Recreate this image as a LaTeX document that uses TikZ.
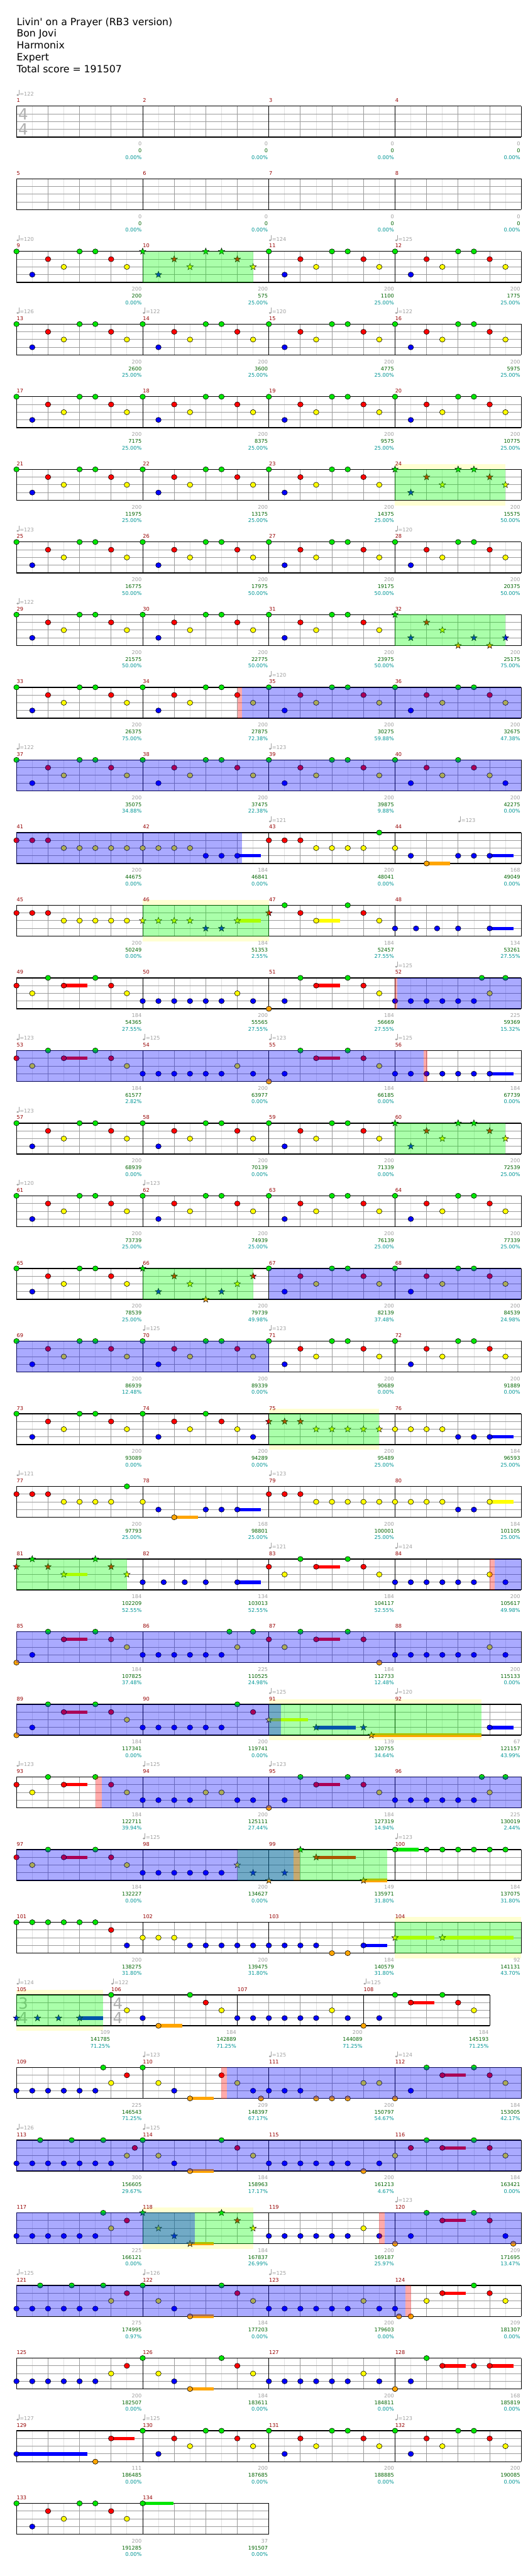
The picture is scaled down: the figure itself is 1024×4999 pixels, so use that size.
\documentclass[tikz,border=0pt]{standalone}
\usepackage{fontspec}
\setmainfont{DejaVu Sans}
\usetikzlibrary{shapes.geometric}
\definecolor{cG}{RGB}{0,230,0}
\definecolor{cR}{RGB}{255,0,0}
\definecolor{cY}{RGB}{255,255,0}
\definecolor{cB}{RGB}{0,0,255}
\definecolor{cO}{RGB}{255,165,0}
\definecolor{numred}{RGB}{150,0,0}
\definecolor{sgray}{RGB}{160,160,160}
\definecolor{sgreen}{RGB}{0,100,0}
\definecolor{scyan}{RGB}{0,150,150}
\definecolor{spgreen}{RGB}{0,255,0}
\definecolor{solo}{RGB}{255,255,210}
\definecolor{gridq}{RGB}{155,155,155}
\definecolor{gride}{RGB}{225,225,225}
\definecolor{tsgray}{RGB}{175,175,175}
\pgfdeclarelayer{bg}\pgfdeclarelayer{sp}\pgfdeclarelayer{od}
\pgfsetlayers{bg,main,sp,od}
\def\fsm{\fontsize{5pt}{6pt}\selectfont}
\def\fti{\fontsize{9.6pt}{11.5pt}\selectfont}
\def\fts{\fontsize{15pt}{15pt}\selectfont}
\tikzset{
 mnum/.style={anchor=base west,inner sep=0pt,text=numred,font=\fsm},
 sc/.style={anchor=base east,inner sep=0pt,font=\fsm},
 tsf/.style={inner sep=0pt,text=tsgray,font=\fts},
 notec/.style={draw=black,line width=0.35pt},
 starc/.style={star,star points=5,star point ratio=2.4,minimum size=6.6pt,inner sep=0pt,draw=black,line width=0.3pt},
 titl/.style={anchor=base west,inner sep=0pt,font=\fti,text=black},
}
% notes
\def\Nt#1#2#3{\filldraw[notec,fill=#3] (#1,#2) ellipse [x radius=2.65pt,y radius=2.5pt];}
\def\Ng#1{\Nt{#1}{0}{cG}}\def\Nr#1{\Nt{#1}{1}{cR}}\def\Ny#1{\Nt{#1}{2}{cY}}
\def\Nb#1{\Nt{#1}{3}{cB}}\def\No#1{\Nt{#1}{4}{cO}}
% stars
\def\St#1#2#3{\node[starc,fill=#3] at (#1,#2) {};}
\def\Sg#1{\St{#1}{0}{cG}}\def\Sr#1{\St{#1}{1}{cR}}\def\Sy#1{\St{#1}{2}{cY}}
\def\Sb#1{\St{#1}{3}{cB}}\def\So#1{\St{#1}{4}{cO}}
% sustains
\def\Lc#1#2#3#4{\fill[#4] (#1,{#3-0.22}) rectangle (#2,{#3+0.22});}
\def\Lg#1#2{\Lc{#1}{#2}{0}{cG}}\def\Lr#1#2{\Lc{#1}{#2}{1}{cR}}\def\Ly#1#2{\Lc{#1}{#2}{2}{cY}}
\def\Lb#1#2{\Lc{#1}{#2}{3}{cB}}\def\Lo#1#2{\Lc{#1}{#2}{4}{cO}}
% overlays
\def\Sps#1#2{\begin{pgfonlayer}{sp}\fill[spgreen,opacity=0.333] (#1,0) rectangle (#2,4);\end{pgfonlayer}}
\def\Ods#1#2{\begin{pgfonlayer}{od}\fill[cB,opacity=0.333] (#1,0) rectangle (#2,4);\end{pgfonlayer}}
\def\Acs#1#2{\begin{pgfonlayer}{od}\fill[cR,opacity=0.333] (#1,0) rectangle (#2,4);\end{pgfonlayer}}
\def\Solo#1#2{\begin{pgfonlayer}{bg}\fill[solo] (#1,-0.667) rectangle (#2,4.667);\end{pgfonlayer}}
% tempo and time signature
\def\Tm#1#2{\begin{scope}[shift={(#1,0)}]
 \fill[sgray] (1.2pt,10.8pt) ellipse [x radius=1.2pt,y radius=0.9pt];
 \draw[sgray,line width=0.4pt] (2.3pt,10.8pt)--(2.3pt,15.8pt);
 \node[anchor=base west,inner sep=0pt,text=sgray,font=\fsm] at (2.9pt,10.2pt) {=#2};
 \end{scope}}
\def\Tsig#1#2{\node[tsf] at (6.5pt,-8pt) {#1};\node[tsf] at (6.5pt,-22.5pt) {#2};}
% grid
\def\Gridm#1{%
 \fill[white] (0,0) rectangle (#1,4);
 \pgfmathtruncatemacro\wa{#1-1}\pgfmathtruncatemacro\wb{#1-2}%
 \foreach \i in {1,3,...,\wa} \draw[gride,line width=0.5pt] (\i,0)--(\i,4);
 \foreach \i in {2,4,...,\wb} \draw[gridq,line width=0.5pt] (\i,0)--(\i,4);
 \draw[gridq,line width=0.55pt] (0,1)--(#1,1) (0,2)--(#1,2) (0,3)--(#1,3);
 \draw[black,line width=0.5pt] (0,0)--(0,4) (#1,0)--(#1,4);
 \draw[black,line width=0.8pt] (0,0)--(#1,0) (0,4)--(#1,4);}
% measure: row, column, number, width(eighths), s1, s2, s3, content
\def\Ms#1#2#3#4#5#6#7#8{%
 \begin{scope}[shift={({32+245*#2},{206+140.97*#1})},x=15.3125pt,y=-7.5pt]
 \Gridm{#4}%
 \node[mnum] at (0pt,3.6pt) {#3};%
 #8%
 \begin{scope}[shift={(#4,0)}]
 \node[sc,text=sgray] at (-0.8pt,-38.3pt) {#5};
 \node[sc,text=sgreen] at (-0.8pt,-45pt) {#6};
 \node[sc,text=scyan] at (-0.8pt,-51.4pt) {#7};
 \end{scope}
 \end{scope}}
% patterns
\def\STD{\Ng{0}\Nb{1}\Nr{2}\Ny{3}\Ng{4}\Ng{5}\Nr{6}\Ny{7}}
\def\STDS{\Sg{0}\Sb{1}\Sr{2}\Sy{3}\Sg{4}\Sg{5}\Sr{6}\Sy{7}}
\def\PA{\Lr{3}{4.5}\Nr{0}\Ny{1}\Ng{2}\Nr{3}\Ng{5}\Nr{6}\Ny{7}}
\def\PB{\Lr{3}{4.5}\No{0}\Nb{1}\Ng{2}\Nr{3}\Ng{5}\Nr{6}\Ny{7}}
\def\PC{\Lo{3}{4.5}\Ng{0}\Ny{1}\Nb{2}\No{3}\Ng{5}\Nr{6}\Ny{7}}
\def\BSIX{\Nb{0}\Nb{1}\Nb{2}\Nb{3}\Nb{4}\Nb{5}}
\def\PD{\BSIX\Ny{6}\Nb{7}}
\begin{document}
\begin{tikzpicture}[x=0.5pt,y=-0.5pt]
\begin{pgfonlayer}{bg}\fill[white] (0,0) rectangle (1024,4999);\end{pgfonlayer}
\useasboundingbox (0,0) rectangle (1024,4999);
\node[titl] (t1) at (32,49) {Livin\textquotesingle{} on a Prayer (RB3 version)};
\node[titl] (t2) at (32,72) {Bon Jovi};
\node[titl] (t3) at (32,95) {Harmonix};
\node[titl] (t4) at (32,118) {Expert};
\node[titl] (t5) at (32,141) {Total score = 191507};
% row 0
\Ms{0}{0}{1}{8}{0}{0}{0.00\%}{\Tm{0}{122}\Tsig{4}{4}}
\Ms{0}{1}{2}{8}{0}{0}{0.00\%}{}
\Ms{0}{2}{3}{8}{0}{0}{0.00\%}{}
\Ms{0}{3}{4}{8}{0}{0}{0.00\%}{}
% row 1
\Ms{1}{0}{5}{8}{0}{0}{0.00\%}{}
\Ms{1}{1}{6}{8}{0}{0}{0.00\%}{}
\Ms{1}{2}{7}{8}{0}{0}{0.00\%}{}
\Ms{1}{3}{8}{8}{0}{0}{0.00\%}{}
% row 2
\Ms{2}{0}{9}{8}{200}{200}{0.00\%}{\Tm{0}{120}\STD}
\Ms{2}{1}{10}{8}{200}{575}{25.00\%}{\STDS\Sps{0}{7}}
\Ms{2}{2}{11}{8}{200}{1100}{25.00\%}{\Tm{0}{124}\STD}
\Ms{2}{3}{12}{8}{200}{1775}{25.00\%}{\Tm{0}{125}\STD}
% row 3
\Ms{3}{0}{13}{8}{200}{2600}{25.00\%}{\Tm{0}{126}\STD}
\Ms{3}{1}{14}{8}{200}{3600}{25.00\%}{\Tm{0}{122}\STD}
\Ms{3}{2}{15}{8}{200}{4775}{25.00\%}{\Tm{0}{120}\STD}
\Ms{3}{3}{16}{8}{200}{5975}{25.00\%}{\Tm{0}{122}\STD}
% row 4
\Ms{4}{0}{17}{8}{200}{7175}{25.00\%}{\STD}
\Ms{4}{1}{18}{8}{200}{8375}{25.00\%}{\STD}
\Ms{4}{2}{19}{8}{200}{9575}{25.00\%}{\STD}
\Ms{4}{3}{20}{8}{200}{10775}{25.00\%}{\STD}
% row 5
\Ms{5}{0}{21}{8}{200}{11975}{25.00\%}{\STD}
\Ms{5}{1}{22}{8}{200}{13175}{25.00\%}{\STD}
\Ms{5}{2}{23}{8}{200}{14375}{25.00\%}{\STD}
\Ms{5}{3}{24}{8}{200}{15575}{50.00\%}{\Solo{0}{7}\STDS\Sps{0}{7}}
% row 6
\Ms{6}{0}{25}{8}{200}{16775}{50.00\%}{\Tm{0}{123}\STD}
\Ms{6}{1}{26}{8}{200}{17975}{50.00\%}{\STD}
\Ms{6}{2}{27}{8}{200}{19175}{50.00\%}{\STD}
\Ms{6}{3}{28}{8}{200}{20375}{50.00\%}{\Tm{0}{120}\STD}
% row 7
\Ms{7}{0}{29}{8}{200}{21575}{50.00\%}{\Tm{0}{122}\STD}
\Ms{7}{1}{30}{8}{200}{22775}{50.00\%}{\STD}
\Ms{7}{2}{31}{8}{200}{23975}{50.00\%}{\STD}
\Ms{7}{3}{32}{8}{200}{25175}{75.00\%}{\Sg{0}\Sb{1}\Sr{2}\Sy{3}\So{4}\Sb{5}\So{6}\Sb{7}\Sps{0}{7}}
% row 8
\Ms{8}{0}{33}{8}{200}{26375}{75.00\%}{\STD}
\Ms{8}{1}{34}{8}{200}{27875}{72.38\%}{\STD\Acs{6}{6.3}\Ods{6.3}{8}}
\Ms{8}{2}{35}{8}{200}{30275}{59.88\%}{\Tm{0}{120}\STD\Ods{0}{8}}
\Ms{8}{3}{36}{8}{200}{32675}{47.38\%}{\STD\Ods{0}{8}}
% row 9
\Ms{9}{0}{37}{8}{200}{35075}{34.88\%}{\Tm{0}{122}\STD\Ods{0}{8}}
\Ms{9}{1}{38}{8}{200}{37475}{22.38\%}{\STD\Ods{0}{8}}
\Ms{9}{2}{39}{8}{200}{39875}{9.88\%}{\Tm{0}{123}\STD\Ods{0}{8}}
\Ms{9}{3}{40}{8}{200}{42275}{0.00\%}{\Ng{0}\Nb{1}\Nr{2}\Ny{3}\Ng{4}\Nr{5}\Ny{6}\Nb{7}\Ods{0}{8}}
% row 10
\Ms{10}{0}{41}{8}{200}{44675}{0.00\%}{\Nr{0}\Nr{1}\Nr{2}\Ny{3}\Ny{4}\Ny{5}\Ny{6}\Ny{7}\Ods{0}{8}}
\Ms{10}{1}{42}{8}{184}{46841}{0.00\%}{\Lb{6}{7.5}\Ny{0}\Ny{1}\Ny{2}\Ny{3}\Nb{4}\Nb{5}\Nb{6}\Ods{0}{6.3}}
\Ms{10}{2}{43}{8}{200}{48041}{0.00\%}{\Tm{0}{121}\Nr{0}\Nr{1}\Nr{2}\Ny{3}\Ny{4}\Ny{5}\Ny{6}\Ng{7}}
\Ms{10}{3}{44}{8}{168}{49049}{0.00\%}{\Tm{4}{123}\Lo{2}{3.5}\Lb{6}{7.5}\Ny{0}\Nb{1}\No{2}\Nb{4}\Nb{5}\Nb{6}}
% row 11
\Ms{11}{0}{45}{8}{200}{50249}{0.00\%}{\Nr{0}\Nr{1}\Nr{2}\Ny{3}\Ny{4}\Ny{5}\Ny{6}\Ny{7}}
\Ms{11}{1}{46}{8}{184}{51353}{2.55\%}{\Solo{0}{8}\Ly{6}{7.5}\Sy{0}\Sy{1}\Sy{2}\Sy{3}\Sb{4}\Sb{5}\Sy{6}\Sps{0}{8}}
\Ms{11}{2}{47}{8}{184}{52457}{27.55\%}{\Ly{3}{4.5}\Sr{0}\Ng{1}\Nr{2}\Ny{3}\Ng{5}\Nr{6}\Ny{7}}
\Ms{11}{3}{48}{8}{134}{53261}{27.55\%}{\Lb{6}{7.5}\Nb{0}\Nb{1.333}\Nb{2.667}\Nb{4}\Nb{6}}
% row 12
\Ms{12}{0}{49}{8}{184}{54365}{27.55\%}{\PA}
\Ms{12}{1}{50}{8}{200}{55565}{27.55\%}{\PD}
\Ms{12}{2}{51}{8}{184}{56669}{27.55\%}{\PB}
\Ms{12}{3}{52}{8}{225}{59369}{15.32\%}{\Tm{0}{125}\BSIX\Ng{5.5}\Ny{6}\Ng{7}\Acs{0}{0.15}\Ods{0.15}{8}}
% row 13
\Ms{13}{0}{53}{8}{184}{61577}{2.82\%}{\Tm{0}{123}\PA\Ods{0}{8}}
\Ms{13}{1}{54}{8}{200}{63977}{0.00\%}{\Tm{0}{125}\PD\Ods{0}{8}}
\Ms{13}{2}{55}{8}{184}{66185}{0.00\%}{\Tm{0}{123}\PB\Ods{0}{8}}
\Ms{13}{3}{56}{8}{184}{67739}{0.00\%}{\Tm{0}{125}\Lb{6}{7.5}\BSIX\Nb{6}\Ods{0}{1.83}\Acs{1.83}{2.05}}
% row 14
\Ms{14}{0}{57}{8}{200}{68939}{0.00\%}{\Tm{0}{123}\STD}
\Ms{14}{1}{58}{8}{200}{70139}{0.00\%}{\STD}
\Ms{14}{2}{59}{8}{200}{71339}{0.00\%}{\STD}
\Ms{14}{3}{60}{8}{200}{72539}{25.00\%}{\STDS\Sps{0}{7}}
% row 15
\Ms{15}{0}{61}{8}{200}{73739}{25.00\%}{\Tm{0}{120}\STD}
\Ms{15}{1}{62}{8}{200}{74939}{25.00\%}{\Tm{0}{123}\STD}
\Ms{15}{2}{63}{8}{200}{76139}{25.00\%}{\STD}
\Ms{15}{3}{64}{8}{200}{77339}{25.00\%}{\STD}
% row 16
\Ms{16}{0}{65}{8}{200}{78539}{25.00\%}{\STD}
\Ms{16}{1}{66}{8}{200}{79739}{49.98\%}{\Sg{0}\Sb{1}\Sr{2}\Sy{3}\So{4}\Sb{5}\Sy{6}\Sr{7}\Sps{0}{7}}
\Ms{16}{2}{67}{8}{200}{82139}{37.48\%}{\STD\Ods{0}{8}}
\Ms{16}{3}{68}{8}{200}{84539}{24.98\%}{\STD\Ods{0}{8}}
% row 17
\Ms{17}{0}{69}{8}{200}{86939}{12.48\%}{\STD\Ods{0}{8}}
\Ms{17}{1}{70}{8}{200}{89339}{0.00\%}{\Tm{0}{125}\STD\Ods{0}{8}}
\Ms{17}{2}{71}{8}{200}{90689}{0.00\%}{\Tm{0}{123}\STD}
\Ms{17}{3}{72}{8}{200}{91889}{0.00\%}{\STD}
% row 18
\Ms{18}{0}{73}{8}{200}{93089}{0.00\%}{\STD}
\Ms{18}{1}{74}{8}{200}{94289}{0.00\%}{\Ng{0}\Nb{1}\Nr{2}\Ny{3}\Ng{4}\Nr{5}\Ny{6}\Nb{7}}
\Ms{18}{2}{75}{8}{200}{95489}{25.00\%}{\Solo{0}{7}\Sr{0}\Sr{1}\Sr{2}\Sy{3}\Sy{4}\Sy{5}\Sy{6}\Sy{7}\Sps{0}{7}}
\Ms{18}{3}{76}{8}{184}{96593}{25.00\%}{\Lb{6}{7.5}\Ny{0}\Ny{1}\Ny{2}\Ny{3}\Nb{4}\Nb{5}\Nb{6}}
% row 19
\Ms{19}{0}{77}{8}{200}{97793}{25.00\%}{\Tm{0}{121}\Nr{0}\Nr{1}\Nr{2}\Ny{3}\Ny{4}\Ny{5}\Ny{6}\Ng{7}}
\Ms{19}{1}{78}{8}{168}{98801}{25.00\%}{\Lo{2}{3.5}\Lb{6}{7.5}\Ny{0}\Nb{1}\No{2}\Nb{4}\Nb{5}\Nb{6}}
\Ms{19}{2}{79}{8}{200}{100001}{25.00\%}{\Tm{0}{123}\Nr{0}\Nr{1}\Nr{2}\Ny{3}\Ny{4}\Ny{5}\Ny{6}\Ny{7}}
\Ms{19}{3}{80}{8}{184}{101105}{25.00\%}{\Ly{6}{7.5}\Ny{0}\Ny{1}\Ny{2}\Ny{3}\Nb{4}\Nb{5}\Ny{6}}
% row 20
\Ms{20}{0}{81}{8}{184}{102209}{52.55\%}{\Ly{3}{4.5}\Sr{0}\Sg{1}\Sr{2}\Sy{3}\Sg{5}\Sr{6}\Sy{7}\Sps{0}{7}}
\Ms{20}{1}{82}{8}{134}{103013}{52.55\%}{\Lb{6}{7.5}\Nb{0}\Nb{1.333}\Nb{2.667}\Nb{4}\Nb{6}}
\Ms{20}{2}{83}{8}{184}{104117}{52.55\%}{\Tm{0}{121}\PA}
\Ms{20}{3}{84}{8}{200}{105617}{49.98\%}{\Tm{0}{124}\PD\Acs{6}{6.33}\Ods{6.33}{8}}
% row 21
\Ms{21}{0}{85}{8}{184}{107825}{37.48\%}{\PB\Ods{0}{8}}
\Ms{21}{1}{86}{8}{225}{110525}{24.98\%}{\BSIX\Ng{5.5}\Ny{6}\Ng{7}\Ods{0}{8}}
\Ms{21}{2}{87}{8}{184}{112733}{12.48\%}{\Lr{3}{4.5}\Nr{0}\Ny{1}\Ng{2}\Nr{3}\Ng{5}\Nr{6}\No{7}\Ods{0}{8}}
\Ms{21}{3}{88}{8}{200}{115133}{0.00\%}{\PD\Ods{0}{8}}
% row 22
\Ms{22}{0}{89}{8}{184}{117341}{0.00\%}{\PB\Ods{0}{8}}
\Ms{22}{1}{90}{8}{200}{119741}{0.00\%}{\BSIX\Ng{6}\Nr{7}\Ods{0}{8}}
\Ms{22}{2}{91}{8}{139}{120755}{34.64\%}{\Tm{0}{125}\Solo{0}{8}\Ly{0}{2.5}\Lb{3}{5.5}\Lo{6.5}{8}\Sy{0}\Sb{3}\Sb{6}\So{6.5}\Sps{0}{8}\Ods{0}{0.78}}
\Ms{22}{3}{92}{8}{67}{121157}{43.99\%}{\Tm{0}{120}\Solo{0}{5.5}\Lo{0}{5.5}\Lb{6}{7.5}\Nb{6}\Sps{0}{5.5}}
% row 23
\Ms{23}{0}{93}{8}{184}{122711}{39.94\%}{\Tm{0}{123}\PA\Acs{5}{5.4}\Ods{5.4}{8}}
\Ms{23}{1}{94}{8}{200}{125111}{27.44\%}{\Tm{0}{125}\Nb{0}\Nb{1}\Nb{2}\Nb{3}\Ny{4}\Ny{5}\Nb{6}\Nb{7}\Ods{0}{8}}
\Ms{23}{2}{95}{8}{184}{127319}{14.94\%}{\Tm{0}{123}\PB\Ods{0}{8}}
\Ms{23}{3}{96}{8}{225}{130019}{2.44\%}{\BSIX\Ng{5.5}\Ny{6}\Ng{7}\Ods{0}{8}}
% row 24
\Ms{24}{0}{97}{8}{184}{132227}{0.00\%}{\PA\Ods{0}{8}}
\Ms{24}{1}{98}{8}{200}{134627}{0.00\%}{\Tm{0}{125}\BSIX\Sy{6}\Sb{7}\Sps{6}{8}\Ods{0}{8}}
\Ms{24}{2}{99}{8}{149}{135971}{31.80\%}{\Lr{3}{5.5}\Lo{6}{7.5}\So{0}\Sb{1}\Sg{2}\Sr{3}\So{6}\Sps{0}{7.5}\Ods{0}{1.55}\Acs{1.55}{1.98}}
\Ms{24}{3}{100}{8}{184}{137075}{31.80\%}{\Tm{0}{123}\Lg{0}{1.5}\Ng{0}\Ng{2}\Ng{3}\Ng{4}\Ng{5}\Ng{6}\Ng{7}}
% row 25
\Ms{25}{0}{101}{8}{200}{138275}{31.80\%}{\Ng{0}\Ng{1}\Ng{2}\Ng{3}\Ng{4}\Ng{5}\Nr{6}\Nb{7}}
\Ms{25}{1}{102}{8}{200}{139475}{31.80\%}{\Ny{0}\Ny{1}\Ny{2}\Nb{3}\Nb{4}\Nb{5}\Nb{6}\Nb{7}}
\Ms{25}{2}{103}{8}{184}{140579}{31.80\%}{\Lb{6}{7.5}\Nb{0}\Nb{1}\Nb{2}\Nb{3}\No{4}\No{5}\Nb{6}}
\Ms{25}{3}{104}{8}{92}{141131}{43.70\%}{\Solo{0}{8}\Ly{0}{2.5}\Ly{3}{7.5}\Sy{0}\Sy{3}\Sps{0}{8}}
% row 26
\Ms{26}{0}{105}{6}{109}{141785}{71.25\%}{\Tm{0}{124}\Tsig{3}{4}\Solo{0}{5.5}\Lb{4}{5.5}\Sb{0}\Sb{1.333}\Sb{2.667}\Sb{4}\Sps{0}{5.5}}
\Ms{26}{0.75}{106}{8}{184}{142889}{71.25\%}{\Tm{0}{122}\Tsig{4}{4}\PC}
\Ms{26}{1.75}{107}{8}{200}{144089}{71.25\%}{\PD}
\Ms{26}{2.75}{108}{8}{184}{145193}{71.25\%}{\Tm{0}{125}\PB}
% row 27
\Ms{27}{0}{109}{8}{225}{146543}{71.25\%}{\BSIX\Ng{5.5}\Ny{6}\Nr{7}}
\Ms{27}{1}{110}{8}{209}{148397}{67.17\%}{\Tm{0}{123}\Lo{3}{4.5}\Ng{0}\Ny{1}\Nb{2}\No{3}\Nr{5}\Ny{6}\Nb{7}\No{7.5}\Acs{5}{5.33}\Ods{5.33}{8}}
\Ms{27}{2}{111}{8}{200}{150797}{54.67\%}{\Tm{0}{125}\Nb{0}\Nb{1}\Nb{2}\No{3}\No{4}\No{5}\Ny{6}\Ny{7}\Ods{0}{8}}
\Ms{27}{3}{112}{8}{184}{153005}{42.17\%}{\Tm{0}{124}\PB\Ods{0}{8}}
% row 28
\Ms{28}{0}{113}{8}{300}{156605}{29.67\%}{\Tm{0}{126}\BSIX\Nb{6}\Ng{1.5}\Ng{3.5}\Ng{5.5}\Ny{7}\Nr{7.5}\Ods{0}{8}}
\Ms{28}{1}{114}{8}{184}{158963}{17.17\%}{\Tm{0}{125}\PC\Ods{0}{8}}
\Ms{28}{2}{115}{8}{200}{161213}{4.67\%}{\BSIX\No{6}\Nb{7}\Ods{0}{8}}
\Ms{28}{3}{116}{8}{184}{163421}{0.00\%}{\Lr{3}{4.5}\Ny{0}\Nr{1}\Ng{2}\Nr{3}\Ng{5}\Nr{6}\Ny{7}\Ods{0}{8}}
% row 29
\Ms{29}{0}{117}{8}{225}{166121}{0.00\%}{\BSIX\Ng{5.5}\Ny{6}\Nr{7}\Ods{0}{8}}
\Ms{29}{1}{118}{8}{184}{167837}{26.99\%}{\Solo{0}{7}\Lo{3}{4.5}\Sg{0}\Sy{1}\Sb{2}\So{3}\Sg{5}\Sr{6}\Sy{7}\Sps{0}{7}\Ods{0}{3.3}}
\Ms{29}{2}{119}{8}{200}{169187}{25.97\%}{\PD\Acs{7}{7.33}\Ods{7.33}{8}}
\Ms{29}{3}{120}{8}{209}{171695}{13.47\%}{\Tm{0}{123}\Lr{3}{4.5}\No{0}\Nb{1}\Ng{2}\Nr{3}\Ng{5}\Nr{6}\Nb{7}\No{7.5}\Ods{0}{8}}
% row 30
\Ms{30}{0}{121}{8}{275}{174995}{0.97\%}{\Tm{0}{125}\BSIX\Ng{1.5}\Ng{3.5}\Ng{5.5}\Ny{6}\Nr{7}\Ods{0}{8}}
\Ms{30}{1}{122}{8}{184}{177203}{0.00\%}{\Tm{0}{126}\PC\Ods{0}{8}}
\Ms{30}{2}{123}{8}{200}{179603}{0.00\%}{\Tm{0}{125}\PD\Ods{0}{8}}
\Ms{30}{3}{124}{8}{209}{181307}{0.00\%}{\Lr{3}{4.5}\Nb{0}\No{0.25}\No{1}\Ny{2}\Nr{3}\Ng{5}\Nr{6}\Ny{7}\Ods{0}{0.65}\Acs{0.65}{1}}
% row 31
\Ms{31}{0}{125}{8}{200}{182507}{0.00\%}{\BSIX\Ny{6}\Nr{7}}
\Ms{31}{1}{126}{8}{184}{183611}{0.00\%}{\PC}
\Ms{31}{2}{127}{8}{200}{184811}{0.00\%}{\PD}
\Ms{31}{3}{128}{8}{168}{185819}{0.00\%}{\Lr{3}{4.5}\Lr{6}{7.5}\No{0}\Nb{1}\Ng{2}\Nr{3}\Nr{5}\Nr{6}}
% row 32
\Ms{32}{0}{129}{8}{111}{186485}{0.00\%}{\Tm{0}{127}\Lb{0}{4.5}\Lr{6}{7.5}\Nb{0}\No{5}\Nr{6}}
\Ms{32}{1}{130}{8}{200}{187685}{0.00\%}{\Tm{0}{125}\STD}
\Ms{32}{2}{131}{8}{200}{188885}{0.00\%}{\STD}
\Ms{32}{3}{132}{8}{200}{190085}{0.00\%}{\Tm{0}{123}\STD}
% row 33
\Ms{33}{0}{133}{8}{200}{191285}{0.00\%}{\STD}
\Ms{33}{1}{134}{8}{37}{191507}{0.00\%}{\Lg{0}{1.96}\Ng{0}}
\end{tikzpicture}
\end{document}
